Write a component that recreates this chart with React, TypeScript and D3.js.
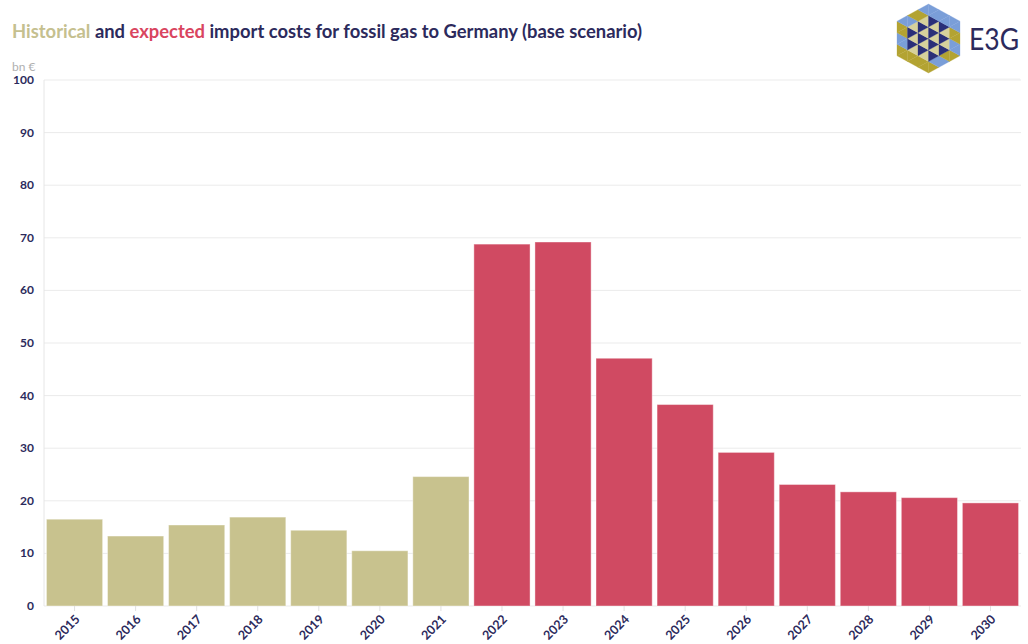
import React from "react";
import * as d3 from "d3";

const years = ["2015","2016","2017","2018","2019","2020","2021","2022","2023","2024","2025","2026","2027","2028","2029","2030"];
const costs = [16.5, 13.3, 15.4, 16.9, 14.4, 10.5, 24.6, 68.8, 69.2, 47.1, 38.3, 29.2, 23.1, 21.7, 20.6, 19.6];
const kinds = ["historical","historical","historical","historical","historical","historical","historical","expected","expected","expected","expected","expected","expected","expected","expected","expected"];
const yTicks = [0, 10, 20, 30, 40, 50, 60, 70, 80, 90, 100];

const W = 1028, H = 644;
const KHAKI = "#c8c28e";
const RED = "#d04a62";
const NAVY = "#2c2a5c";
const FONT = "Lato, 'Source Sans Pro', 'Open Sans', sans-serif";

function Logo() {
  const cx = 928.5, cy = 38.5, sx = 31.5 / (Math.sqrt(3) / 2), sy = 34.5;
  const s = 1 / 3;
  const u: [number, number] = [0, -s];
  const v: [number, number] = [(Math.sqrt(3) / 2) * s, -0.5 * s];
  const hex = d3.range(6).map((k) => {
    const a = Math.PI / 2 + (k * Math.PI) / 3;
    return [Math.cos(a), -Math.sin(a)] as [number, number];
  });
  const inside = (p: [number, number]) => d3.polygonContains(hex, p);
  const tris: { pts: [number, number][]; c: string }[] = [];
  for (let i = -7; i <= 7; i++) {
    for (let j = -7; j <= 7; j++) {
      const P: [number, number] = [i * u[0] + j * v[0], i * u[1] + j * v[1]];
      const A: [number, number][] = [P, [P[0] + u[0], P[1] + u[1]], [P[0] + v[0], P[1] + v[1]]];
      const B: [number, number][] = [[P[0] + u[0], P[1] + u[1]], [P[0] + v[0], P[1] + v[1]], [P[0] + u[0] + v[0], P[1] + u[1] + v[1]]];
      [A, B].forEach((t, o) => {
        const c = d3.polygonCentroid(t);
        if (!inside(c)) return;
        const r = Math.hypot(c[0], c[1]);
        let col;
        if (r < 0.62) col = o === 0 ? "#2a2f78" : "#d6d19c";
        else col = (i + j + o) % 2 === 0 ? "#7a9ed8" : "#b3a332";
        tris.push({ pts: t, c: col });
      });
    }
  }
  return (
    <g>
      {tris.map((t, k) => (
        <polygon
          key={k}
          points={t.pts.map((p) => `${cx + p[0] * sx},${cy + p[1] * sy}`).join(" ")}
          fill={t.c}
          stroke={t.c}
          strokeWidth={0.3}
        />
      ))}
      <text x={969} y={50} fontFamily={FONT} fontSize={30} fill={NAVY} textLength={50} lengthAdjust="spacingAndGlyphs">E3G</text>
    </g>
  );
}

export default function App() {
  const x = d3.scaleBand<string>().domain(years).range([44, 1021]).paddingInner(0.08).paddingOuter(0.04);
  const y = d3.scaleLinear().domain([0, 100]).range([606, 80]);
  return (
    <svg width={W} height={H} style={{ position: "absolute", left: 0, top: 0, background: "#fff" }} fontFamily={FONT}>
      <text x={12} y={38} fontSize={18.4} fontWeight={700} fill={NAVY}>
        <tspan fill="#c5c08f">Historical</tspan>
        <tspan> and </tspan>
        <tspan fill="#d9455f">expected</tspan>
        <tspan> import costs for fossil gas to Germany (base scenario)</tspan>
      </text>
      <line x1={880} x2={1020} y1={79} y2={79} stroke="#f0f0f0" />
      <Logo />
      <text x={12} y={71} fontSize={12} fill="#b0b0b0">bn €</text>
      {yTicks.map((t) => (
        <g key={t}>
          <line x1={44} x2={1021} y1={y(t)} y2={y(t)} stroke="#ebebeb" strokeWidth={1} />
          <text x={34} y={y(t) + 4} textAnchor="end" fontSize={12} fontWeight={700} fill={NAVY}>{t}</text>
        </g>
      ))}
      <line x1={44} x2={44} y1={80} y2={606} stroke="#e6e6e6" />
      {years.map((yr, i) => (
        <g key={yr}>
          <rect
            x={x(yr)}
            y={y(costs[i])}
            width={x.bandwidth()}
            height={y(0) - y(costs[i])}
            fill={kinds[i] === "historical" ? KHAKI : RED}
            stroke="#ffffff"
            strokeOpacity={0.4}
            strokeWidth={1}
          />
          <line x1={x(yr)! + x.bandwidth() / 2} x2={x(yr)! + x.bandwidth() / 2} y1={606} y2={611} stroke="#e0e0e0" />
          <text
            transform={`translate(${x(yr)! + x.bandwidth() / 2 + 6},${620}) rotate(-45)`}
            textAnchor="end"
            fontSize={12.5}
            fontWeight={700}
            fill={NAVY}
          >
            {yr}
          </text>
        </g>
      ))}
    </svg>
  );
}
